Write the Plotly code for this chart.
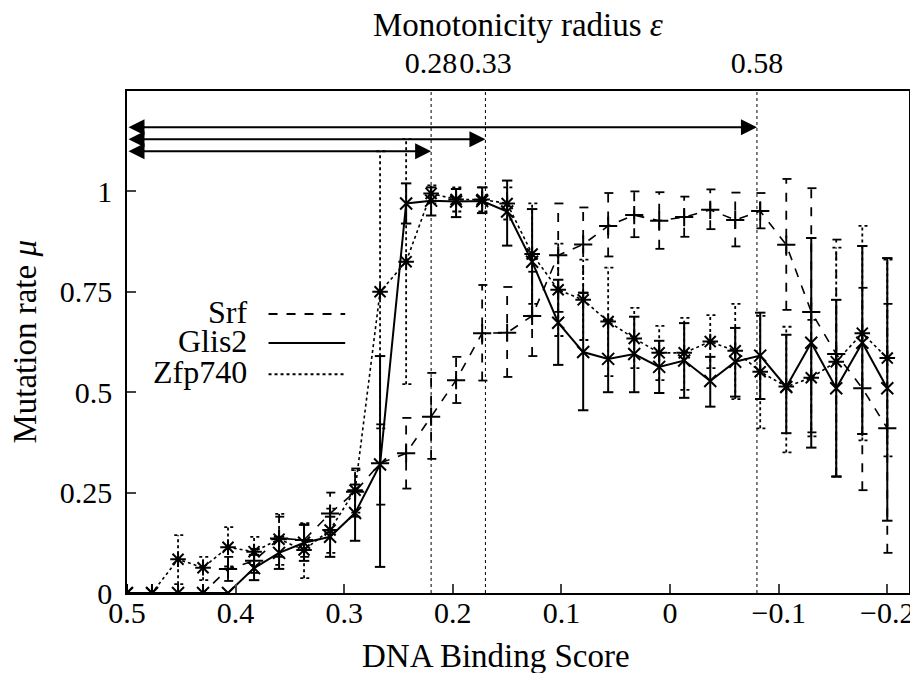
import plotly.graph_objects as go

# ---- data ----
score = [0.5, 0.477, 0.453, 0.43, 0.407, 0.383, 0.36, 0.337, 0.313, 0.29, 0.267,
         0.243, 0.22, 0.197, 0.173, 0.15, 0.127, 0.103, 0.08, 0.057, 0.033, 0.01,
         -0.013, -0.037, -0.06, -0.083, -0.107, -0.13, -0.153, -0.177, -0.2]

srf = [0, 0, 0, 0, 0.06, 0.08, 0.136, 0.132, 0.198, 0.252, 0.323, 0.348, 0.439, 0.53,
       0.647, 0.648, 0.69, 0.841, 0.868, 0.914, 0.941, 0.927, 0.936, 0.954, 0.929,
       0.951, 0.867, 0.70, 0.595, 0.51, 0.41]
srf_lo = [0, 0, 0, 0, 0.03, 0.05, 0.09, 0.09, 0.15, 0.19, 0.22, 0.26, 0.334, 0.473,
          0.529, 0.538, 0.59, 0.70, 0.747, 0.838, 0.886, 0.857, 0.887, 0.906, 0.863,
          0.908, 0.705, 0.40, 0.29, 0.256, 0.10]
srf_hi = [0, 0, 0, 0, 0.09, 0.11, 0.19, 0.17, 0.25, 0.31, 0.42, 0.436, 0.548, 0.588,
          0.767, 0.762, 0.80, 0.97, 0.96, 0.996, 1.0, 0.998, 0.987, 1.005, 0.997,
          0.996, 1.031, 1.008, 0.88, 0.76, 0.72]

glis2 = [0, 0, 0, 0, 0, 0.062, 0.10, 0.125, 0.14, 0.199, 0.32, 0.97, 0.977, 0.975,
         0.976, 0.95, 0.825, 0.673, 0.60, 0.583, 0.595, 0.563, 0.579, 0.528, 0.576,
         0.591, 0.513, 0.623, 0.51, 0.623, 0.51]
glis2_lo = [0, 0, 0, 0, 0, 0.032, 0.06, 0.08, 0.09, 0.13, 0.065, 0.92, 0.94, 0.936,
            0.946, 0.865, 0.69, 0.568, 0.455, 0.50, 0.50, 0.498, 0.486, 0.464, 0.489,
            0.483, 0.398, 0.362, 0.29, 0.396, 0.18]
glis2_hi = [0, 0, 0, 0, 0, 0.095, 0.14, 0.17, 0.19, 0.27, 0.59, 1.02, 1.01, 1.006,
            1.01, 1.027, 0.956, 0.78, 0.748, 0.68, 0.688, 0.628, 0.672, 0.588, 0.66,
            0.698, 0.643, 0.884, 0.73, 0.864, 0.834]

zfp740 = [0, 0, 0.084, 0.063, 0.114, 0.103, 0.134, 0.107, 0.157, 0.256, 0.75, 0.825,
          0.995, 0.98, 0.98, 0.97, 0.844, 0.755, 0.73, 0.676, 0.634, 0.598, 0.598,
          0.626, 0.603, 0.551, 0.514, 0.536, 0.576, 0.647, 0.585]
zfp740_lo = [0, 0, 0.022, 0.032, 0.066, 0.07, 0.07, 0.037, 0.10, 0.20, 0.41, 0.52,
             0.97, 0.95, 0.95, 0.93, 0.72, 0.64, 0.63, 0.54, 0.56, 0.53, 0.506, 0.56,
             0.483, 0.41, 0.35, 0.39, 0.29, 0.38, 0.34]
zfp740_hi = [0, 0, 0.144, 0.09, 0.164, 0.14, 0.197, 0.174, 0.21, 0.306, 1.10, 1.13,
             1.015, 1.01, 1.01, 1.01, 0.97, 0.87, 0.83, 0.81, 0.71, 0.665, 0.685,
             0.692, 0.72, 0.69, 0.663, 0.68, 0.86, 0.914, 0.83]

radii = [0.28, 0.33, 0.58]
radius_labels = ["0.28", "0.33", "0.58"]
arrow_levels = [1.10, 1.13, 1.16]
center_score = 0.5

x_ticks = [0.5, 0.4, 0.3, 0.2, 0.1, 0, -0.1, -0.2]
y_ticks = [0, 0.25, 0.5, 0.75, 1]

FONT = "Liberation Serif"
FS = 30
TFS = 33
LFS = 32
CAP = 0.0048  # half cap width in score units (styling)

fig = go.Figure()

def add_series(name, y, lo, hi, dash, symbol, width, ewidth, msize):
    # gnuplot-style error bars drawn in the series' own line style
    ex, ey = [], []
    for xv, l, h in zip(score, lo, hi):
        if h - l <= 0:
            continue
        ex += [xv, xv, None, xv - CAP, xv + CAP, None, xv - CAP, xv + CAP, None]
        ey += [l, h, None, l, l, None, h, h, None]
    fig.add_trace(go.Scatter(x=ex, y=ey, mode="lines", showlegend=False,
                             hoverinfo="skip",
                             line=dict(color="black", width=ewidth, dash=dash)))
    fig.add_trace(go.Scatter(
        x=score, y=y, name=name, mode="lines+markers",
        line=dict(color="black", width=width, dash=dash),
        marker=dict(symbol=symbol, size=msize, color="black",
                    line=dict(color="black", width=2)),
        showlegend=False))

add_series("Srf", srf, srf_lo, srf_hi, "dash", "cross-thin", 1.6, 1.8, 13)
add_series("Glis2", glis2, glis2_lo, glis2_hi, "solid", "x-thin", 2.0, 2.0, 12)
add_series("Zfp740", zfp740, zfp740_lo, zfp740_hi, "dot", "asterisk-open", 1.6, 1.8, 13)

# invisible trace for top axis
fig.add_trace(go.Scatter(x=[center_score - r for r in radii], y=[None]*3,
                         xaxis="x2", showlegend=False, hoverinfo="skip"))

# vertical dotted lines and arrows
for r, lvl in zip(radii, arrow_levels):
    xp = center_score - r
    fig.add_shape(type="line", x0=xp, x1=xp, y0=0, y1=1, xref="x", yref="paper",
                  line=dict(color="black", width=1, dash="dot"))
    fig.add_annotation(x=xp, y=lvl, ax=center_score, ay=lvl, xref="x", yref="y",
                       axref="x", ayref="y", text="", showarrow=True,
                       arrowhead=2, startarrowhead=2, arrowside="end+start",
                       arrowsize=1.6, startarrowsize=1.6, arrowwidth=2,
                       arrowcolor="black")

# legend (gnuplot-style: text right, sample to its right)
leg = [("Srf", "dash", 2.0, 0.56), ("Glis2", "solid", 2.0, 0.502), ("Zfp740", "dot", 2.0, 0.44)]
for name, dash, w, yp in leg:
    fig.add_annotation(x=0.156, y=yp, xref="paper", yref="paper", text=name,
                       showarrow=False, xanchor="right", yanchor="middle",
                       font=dict(family=FONT, size=LFS, color="black"))
    fig.add_shape(type="line", x0=0.181, x1=0.279, y0=yp - 0.004, y1=yp - 0.004,
                  xref="paper", yref="paper", line=dict(color="black", width=w, dash=dash))

# titles
fig.add_annotation(x=0.5, y=1.1315, xref="paper", yref="paper",
                   text="Monotonicity radius <i>ε</i>", showarrow=False,
                   xanchor="center", yanchor="middle",
                   font=dict(family=FONT, size=TFS, color="black"))
fig.add_annotation(x=0.472, y=-0.126, xref="paper", yref="paper",
                   text="DNA Binding Score", showarrow=False,
                   xanchor="center", yanchor="middle",
                   font=dict(family=FONT, size=TFS, color="black"))
fig.add_annotation(x=-0.131, y=0.5, xref="paper", yref="paper",
                   text="Mutation rate <i>μ</i>", showarrow=False, textangle=-90,
                   xanchor="center", yanchor="middle",
                   font=dict(family=FONT, size=TFS, color="black"))

# page body has an 8px margin: shrink figure so plot area lands where the reference has it
fig.update_layout(
    width=910, height=665,
    margin=dict(l=119, r=9, t=83, b=80),
    paper_bgcolor="white", plot_bgcolor="white",
    font=dict(family=FONT, size=FS, color="black"),
    xaxis=dict(range=[0.5, -0.22], tickvals=x_ticks, ticks="inside", ticklen=9,
               tickwidth=1.5, showline=True, linecolor="black", linewidth=1.5,
               mirror=True, showgrid=False, zeroline=False, automargin=False,
               ticklabelstandoff=-8, tickangle=0,
               tickfont=dict(family=FONT, size=FS)),
    xaxis2=dict(range=[0.5, -0.22], overlaying="x", side="top",
                tickvals=[center_score - r for r in radii], ticktext=radius_labels,
                ticks="", showline=False, showgrid=False, zeroline=False,
                automargin=False, ticklabelstandoff=11, tickangle=0,
                tickfont=dict(family=FONT, size=FS)),
    yaxis=dict(range=[0, 1.25], tickvals=y_ticks, ticktext=["0", "0.25", "0.5", "0.75", "1"],
               ticks="inside", ticklen=9, tickwidth=1.5, showline=True,
               linecolor="black", linewidth=1.5, mirror=True, showgrid=False,
               zeroline=False, automargin=False, ticklabelstandoff=7,
               tickfont=dict(family=FONT, size=FS)),
)

fig.write_html("out.html")
